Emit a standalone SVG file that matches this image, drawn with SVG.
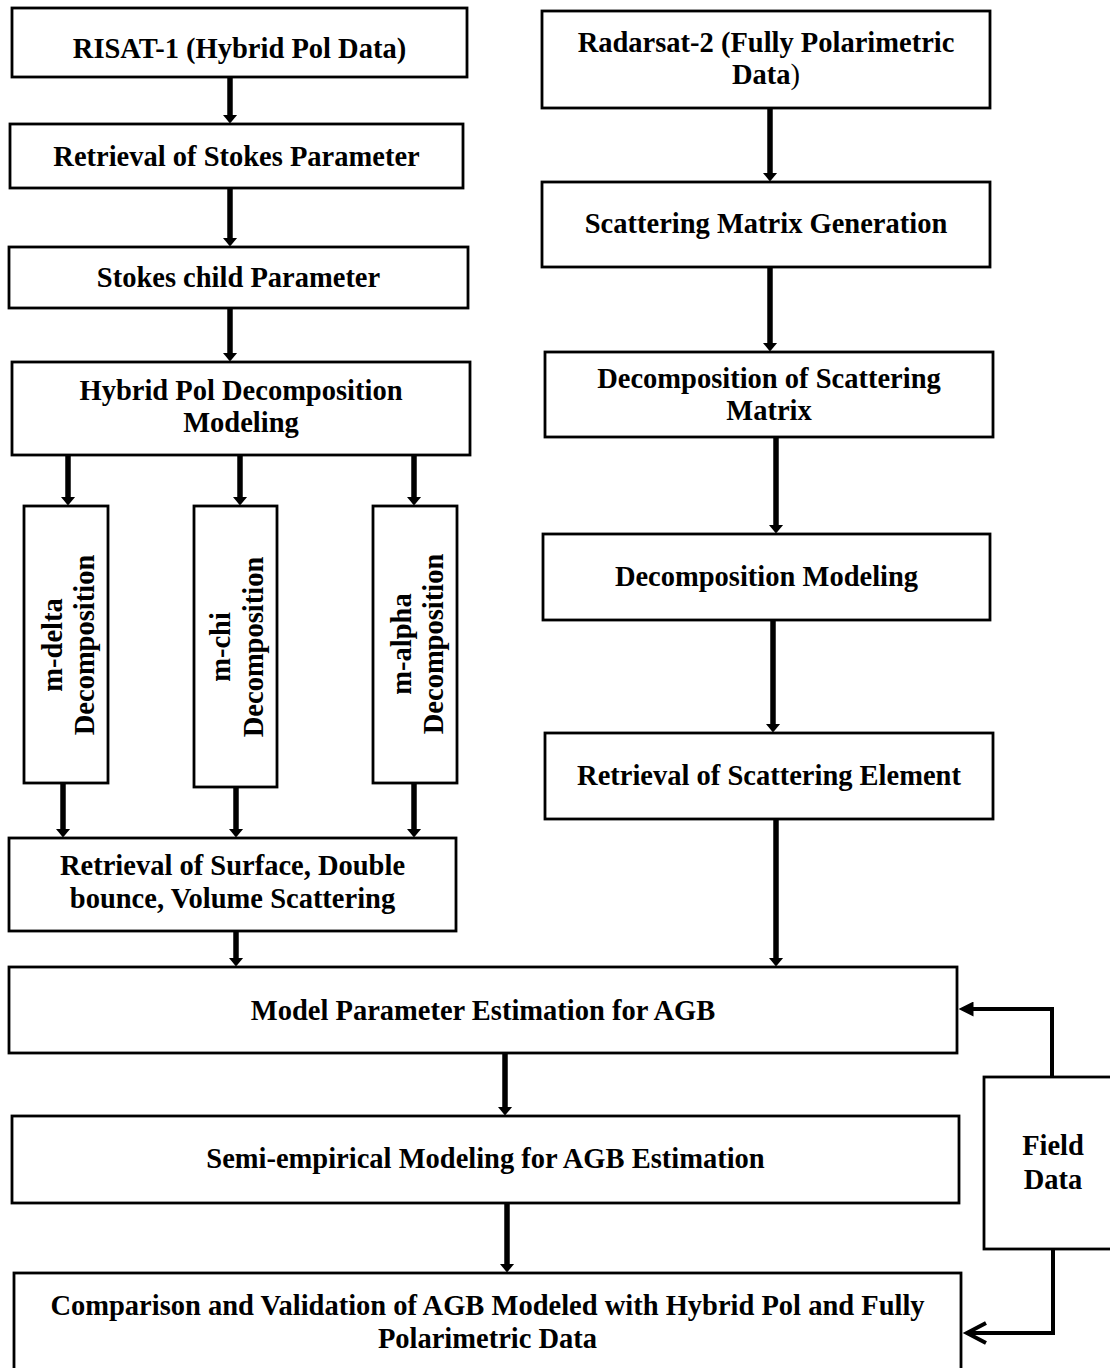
<svg xmlns="http://www.w3.org/2000/svg" width="1110" height="1368" viewBox="0 0 1110 1368">
<defs>
<style>
.box{fill:#fff;stroke:#000;stroke-width:2.8}
.t{font-family:"Liberation Serif","Times New Roman",serif;font-weight:bold;font-size:28.5px;fill:#000;text-anchor:middle}
.ar{stroke:#000;stroke-width:5.5;fill:none}
.fa{stroke:#000;stroke-width:4;fill:none}
</style>
<marker id="ah" viewBox="0 0 9 15" refX="0.5" refY="7.5" markerWidth="9" markerHeight="15" markerUnits="userSpaceOnUse" orient="auto">
<path d="M0,0 L9,7.5 L0,15 z" fill="#000"/>
</marker>
<marker id="ahf" viewBox="0 0 15 15" refX="0.5" refY="7.5" markerWidth="15" markerHeight="15" markerUnits="userSpaceOnUse" orient="auto">
<path d="M0,0 L15,7.5 L0,15 z" fill="#000"/>
</marker>
</defs>
<rect width="1110" height="1368" fill="#fff"/>

<g id="connectors">
<line class="ar" x1="230" y1="77" x2="230" y2="115" marker-end="url(#ah)"/>
<line class="ar" x1="230" y1="188" x2="230" y2="238" marker-end="url(#ah)"/>
<line class="ar" x1="230" y1="308" x2="230" y2="353" marker-end="url(#ah)"/>
<line class="ar" x1="68" y1="455" x2="68" y2="497" marker-end="url(#ah)"/>
<line class="ar" x1="240" y1="455" x2="240" y2="497" marker-end="url(#ah)"/>
<line class="ar" x1="414" y1="455" x2="414" y2="497" marker-end="url(#ah)"/>
<line class="ar" x1="63" y1="783" x2="63" y2="829" marker-end="url(#ah)"/>
<line class="ar" x1="236" y1="787" x2="236" y2="829" marker-end="url(#ah)"/>
<line class="ar" x1="414" y1="783" x2="414" y2="829" marker-end="url(#ah)"/>
<line class="ar" x1="236" y1="931" x2="236" y2="958" marker-end="url(#ah)"/>
<line class="ar" x1="770" y1="108" x2="770" y2="173" marker-end="url(#ah)"/>
<line class="ar" x1="770" y1="267" x2="770" y2="343" marker-end="url(#ah)"/>
<line class="ar" x1="776" y1="437" x2="776" y2="525" marker-end="url(#ah)"/>
<line class="ar" x1="773" y1="620" x2="773" y2="724" marker-end="url(#ah)"/>
<line class="ar" x1="776" y1="819" x2="776" y2="958" marker-end="url(#ah)"/>
<line class="ar" x1="505" y1="1053" x2="505" y2="1107" marker-end="url(#ah)"/>
<line class="ar" x1="507" y1="1203" x2="507" y2="1264" marker-end="url(#ah)"/>
<path class="fa" d="M1052,1077 V1009 H973" marker-end="url(#ahf)"/>
<path class="fa" d="M1053,1249 V1333 H967"/>
<path class="fa" d="M986,1323 L967,1333 L986,1343"/>
</g>

<g id="n-risat">
<rect class="box" x="12" y="8" width="455" height="69"/>
<text class="t" x="239.5" y="58">RISAT-1 (Hybrid Pol Data)</text>
</g>
<g id="n-stokes">
<rect class="box" x="10" y="124" width="453" height="64"/>
<text class="t" x="236.5" y="166">Retrieval of Stokes Parameter</text>
</g>
<g id="n-stokeschild">
<rect class="box" x="9" y="247" width="459" height="61"/>
<text class="t" x="238.5" y="287">Stokes child Parameter</text>
</g>
<g id="n-hybrid">
<rect class="box" x="12" y="362" width="458" height="93"/>
<text class="t" x="241" y="400">Hybrid Pol Decomposition</text>
<text class="t" x="241" y="432">Modeling</text>
</g>
<g id="n-mdelta">
<rect class="box" x="24" y="506" width="84" height="277"/>
<text class="t" transform="translate(62,645) rotate(-90)">m-delta</text>
<text class="t" transform="translate(94,645) rotate(-90)">Decomposition</text>
</g>
<g id="n-mchi">
<rect class="box" x="194" y="506" width="83" height="281"/>
<text class="t" transform="translate(230,647) rotate(-90)">m-chi</text>
<text class="t" transform="translate(263,647) rotate(-90)">Decomposition</text>
</g>
<g id="n-malpha">
<rect class="box" x="373" y="506" width="84" height="277"/>
<text class="t" transform="translate(411,644) rotate(-90)">m-alpha</text>
<text class="t" transform="translate(443,644) rotate(-90)">Decomposition</text>
</g>
<g id="n-surface">
<rect class="box" x="9" y="838" width="447" height="93"/>
<text class="t" x="232.5" y="875">Retrieval of Surface, Double</text>
<text class="t" x="232.5" y="908">bounce, Volume Scattering</text>
</g>
<g id="n-radarsat">
<rect class="box" x="542" y="11" width="448" height="97"/>
<text class="t" x="766" y="52">Radarsat-2 (Fully Polarimetric</text>
<text class="t" x="766" y="84">Data<tspan font-weight="normal">)</tspan></text>
</g>
<g id="n-scatmatrix">
<rect class="box" x="542" y="182" width="448" height="85"/>
<text class="t" x="766" y="233">Scattering Matrix Generation</text>
</g>
<g id="n-decompscat">
<rect class="box" x="545" y="352" width="448" height="85"/>
<text class="t" x="769" y="388">Decomposition of Scattering</text>
<text class="t" x="769" y="420">Matrix</text>
</g>
<g id="n-decompmodel">
<rect class="box" x="543" y="534" width="447" height="86"/>
<text class="t" x="766.5" y="586">Decomposition Modeling</text>
</g>
<g id="n-scatelem">
<rect class="box" x="545" y="733" width="448" height="86"/>
<text class="t" x="769" y="785">Retrieval of Scattering Element</text>
</g>
<g id="n-model">
<rect class="box" x="9" y="967" width="948" height="86"/>
<text class="t" x="483" y="1020">Model Parameter Estimation for AGB</text>
</g>
<g id="n-semi">
<rect class="box" x="12" y="1116" width="947" height="87"/>
<text class="t" x="485.5" y="1168">Semi-empirical Modeling for AGB Estimation</text>
</g>
<g id="n-comparison">
<rect class="box" x="14" y="1273" width="947" height="110"/>
<text class="t" x="487.5" y="1315">Comparison and Validation of AGB Modeled with Hybrid Pol and Fully</text>
<text class="t" x="487.5" y="1348">Polarimetric Data</text>
</g>
<g id="n-field">
<rect class="box" x="984" y="1077" width="140" height="172"/>
<text class="t" x="1053" y="1155">Field</text>
<text class="t" x="1053" y="1189">Data</text>
</g>
</svg>
